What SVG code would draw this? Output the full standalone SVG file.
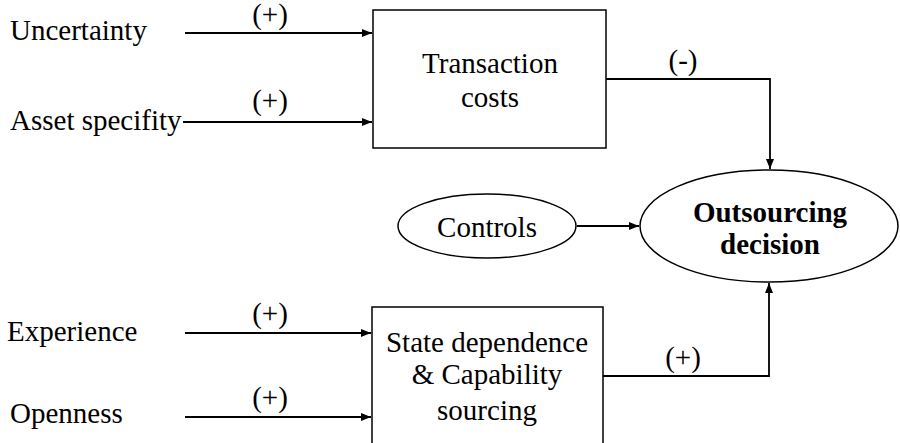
<svg xmlns="http://www.w3.org/2000/svg" width="900" height="443" viewBox="0 0 900 443">
  <defs>
    <marker id="arrow" viewBox="0 0 10 8" refX="10" refY="4" markerWidth="10" markerHeight="8" markerUnits="userSpaceOnUse" orient="auto">
      <path d="M0,0 L10,4 L0,8 Z" fill="#000"/>
    </marker>
  </defs>
  <style>
    .t { font-family: 'Liberation Serif', 'Times New Roman', Times, serif; font-size: 29px; fill: #000; }
    .c { text-anchor: middle; }
    .b { font-weight: bold; }
    .node { fill: #fff; stroke: #000; stroke-width: 1.5; }
    .edge { fill: none; stroke: #000; stroke-width: 1.8; marker-end: url(#arrow); }
  </style>
  <rect width="900" height="443" fill="#fff"/>

  <!-- arrows between the factors and the decision -->
  <g id="connectors">
    <line class="edge" x1="185" y1="33" x2="372" y2="33"/>
    <line class="edge" x1="183" y1="122" x2="372" y2="122"/>
    <line class="edge" x1="185" y1="333" x2="371" y2="333"/>
    <line class="edge" x1="185" y1="417" x2="371" y2="417"/>
    <polyline class="edge" points="606,79 770,79 770,169"/>
    <polyline class="edge" points="603,376 769,376 769,283"/>
    <line class="edge" x1="577" y1="226" x2="639" y2="226"/>
  </g>

  <!-- sign of each effect -->
  <g id="edge-labels" class="t c">
    <text x="270" y="24">(+)</text>
    <text x="270" y="110">(+)</text>
    <text x="270" y="323">(+)</text>
    <text x="270" y="407">(+)</text>
    <text x="683" y="70">(-)</text>
    <text x="683" y="367">(+)</text>
  </g>

  <g id="uncertainty" class="t"><text x="10" y="40">Uncertainty</text></g>
  <g id="asset-specifity" class="t"><text x="10" y="130">Asset specifity</text></g>
  <g id="experience" class="t"><text x="7" y="341">Experience</text></g>
  <g id="openness" class="t"><text x="10" y="423">Openness</text></g>

  <g id="transaction-costs" class="t c">
    <rect class="node" x="373" y="10" width="233" height="138"/>
    <text x="490" y="73">Transaction</text>
    <text x="490" y="107">costs</text>
  </g>

  <g id="state-dependence" class="t c">
    <rect class="node" x="372" y="307" width="231" height="150"/>
    <text x="487" y="352">State dependence</text>
    <text x="487" y="384">&amp; Capability</text>
    <text x="487" y="420">sourcing</text>
  </g>

  <g id="controls" class="t c">
    <ellipse class="node" cx="487" cy="226" rx="89" ry="32"/>
    <text x="487" y="237">Controls</text>
  </g>

  <g id="outsourcing-decision" class="t c b">
    <ellipse class="node" cx="769" cy="226" rx="129" ry="56"/>
    <text x="770" y="222">Outsourcing</text>
    <text x="770" y="254">decision</text>
  </g>
</svg>
